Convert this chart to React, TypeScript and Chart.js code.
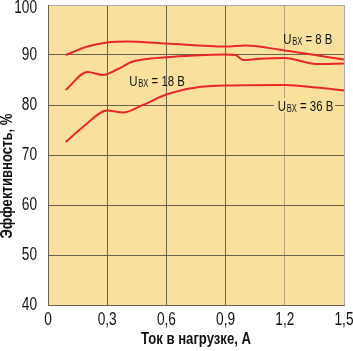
import React, { useEffect, useRef } from 'react';
import { Chart, registerables } from 'chart.js';
Chart.register(...registerables);

// Ток в нагрузке, А  /  Эффективность, %
const current8 = [0.09, 0.2, 0.3, 0.4, 0.6, 0.9, 1.0, 1.2, 1.5];
const eff8 = [90.0, 91.7, 92.5, 92.7, 92.3, 91.7, 91.9, 90.9, 89.1];

const current18 = [0.09, 0.2, 0.28, 0.35, 0.43, 0.52, 0.65, 0.9, 0.95, 0.99, 1.06, 1.2, 1.36, 1.5];
const eff18 = [83.0, 86.6, 86.0, 87.1, 88.7, 89.3, 89.7, 90.1, 90.0, 89.0, 89.2, 89.4, 88.2, 88.3];

const current36 = [0.09, 0.18, 0.3, 0.38, 0.48, 0.6, 0.75, 0.9, 1.2, 1.36, 1.5];
const eff36 = [72.6, 75.7, 78.9, 78.5, 80.0, 82.1, 83.5, 83.9, 84.0, 83.5, 82.9];

const xTickValues = [0, 0.3, 0.6, 0.9, 1.2, 1.5];
const yTickValues = [40, 50, 60, 70, 80, 90, 100];

const seriesVoltages = ['8', '18', '36'];
// label anchor (left edge, vertical centre) in data units
const labelX = [1.192, 0.412, 1.164];
const labelY = [93.4, 85.0, 80.0];

const xTitle = 'Ток в нагрузке, А';
const yTitle = 'Эффективность, %';

const SANS = '"Liberation Sans", Arial, sans-serif';
const RED = '#E8262B';
const GRID = '#6C614E';
const BG = '#F9E19D';
const SX = 0.76; // horizontal condensing of text

const toPoints = (xs: number[], ys: number[]) => xs.map((x, i) => ({ x, y: ys[i] }));
const near = (a: number, b: number) => Math.abs(a - b) < 1e-6;
const fmtX = (v: number) => (near(v, 0) ? '0' : v.toFixed(1).replace('.', ','));

function condensed(ctx: any, text: string, x: number, y: number, font: string, align: string, sx = SX) {
  ctx.save();
  ctx.font = font;
  ctx.textAlign = align;
  ctx.textBaseline = 'middle';
  ctx.translate(x, y);
  ctx.scale(sx, 1);
  ctx.fillText(text, 0, 0);
  ctx.restore();
}

const decoPlugin = {
  id: 'deco',
  beforeDraw(chart: any) {
    const { ctx, chartArea: a } = chart;
    ctx.save();
    ctx.fillStyle = BG;
    ctx.fillRect(a.left, a.top, a.right - a.left, a.bottom - a.top);
    ctx.restore();
  },
  afterDatasetsDraw(chart: any) {
    const { ctx } = chart;
    const xs = chart.scales.x;
    const ys = chart.scales.y;
    ctx.save();
    seriesVoltages.forEach((v, i) => {
      const px = xs.getPixelForValue(labelX[i]);
      const py = ys.getPixelForValue(labelY[i]);
      const big = `15px ${SANS}`;
      const small = `10px ${SANS}`;
      ctx.font = big;
      const wU = ctx.measureText('U').width;
      ctx.font = small;
      const wB = ctx.measureText('BX').width;
      ctx.font = big;
      const rest = ` = ${v} B`;
      const wR = ctx.measureText(rest).width;
      const total = (wU + 1 + wB + wR) * SX;
      if (i === 2) {
        ctx.fillStyle = BG;
        ctx.fillRect(px - 4, py - 7, total + 6, 14);
      }
      ctx.save();
      ctx.translate(px, py + 5.5);
      ctx.scale(SX, 1);
      ctx.fillStyle = '#111';
      ctx.textBaseline = 'alphabetic';
      ctx.textAlign = 'left';
      ctx.font = big;
      ctx.fillText('U', 0, 0);
      ctx.font = small;
      ctx.fillText('BX', wU + 1, 1);
      ctx.font = big;
      ctx.fillText(rest, wU + 1 + wB, 0);
      ctx.restore();
    });
    ctx.restore();
  },
  afterDraw(chart: any) {
    const { ctx, chartArea: a } = chart;
    const xs = chart.scales.x;
    const ys = chart.scales.y;
    ctx.save();
    ctx.fillStyle = '#111';
    const tickFont = `18px ${SANS}`;
    xs.ticks.forEach((t: any) => {
      condensed(ctx, fmtX(t.value), xs.getPixelForValue(t.value), 320, tickFont, 'center');
    });
    ys.ticks.forEach((t: any) => {
      let y = ys.getPixelForValue(t.value);
      if (y < 8) y = 8;
      condensed(ctx, String(t.value), 37, y, tickFont, 'right');
    });
    const titleFont = `bold 16px ${SANS}`;
    condensed(ctx, xTitle, (a.left + a.right) / 2, 340, titleFont, 'center', 0.82);
    ctx.translate(8, 176);
    ctx.rotate(-Math.PI / 2);
    condensed(ctx, yTitle, 0, 0, titleFont, 'center', 0.82);
    ctx.restore();
  },
};

export default function App() {
  const ref = useRef<HTMLCanvasElement | null>(null);
  useEffect(() => {
    document.body.style.margin = '0';
    const line = (xs: number[], ys: number[]) => ({
      data: toPoints(xs, ys),
      borderColor: RED,
      borderWidth: 2,
      pointRadius: 0,
      fill: false,
      cubicInterpolationMode: 'monotone' as const,
    });
    const chart = new Chart(ref.current as HTMLCanvasElement, {
      type: 'line',
      data: {
        datasets: [line(current8, eff8), line(current18, eff18), line(current36, eff36)],
      },
      options: {
        animation: false,
        responsive: false,
        devicePixelRatio: 1,
        layout: { padding: { top: 5, right: 9, left: 0, bottom: 0 } },
        plugins: { legend: { display: false }, tooltip: { enabled: false } },
        scales: {
          x: {
            type: 'linear',
            min: 0,
            max: 1.5,
            afterBuildTicks: (s: any) => {
              s.ticks = xTickValues.map((value) => ({ value }));
            },
            afterFit: (s: any) => {
              s.height = 46;
              s.paddingLeft = 0;
              s.paddingRight = 0;
            },
            ticks: { display: false },
            grid: {
              drawTicks: false,
              lineWidth: 1,
              color: (c: any) => {
                const v = c.tick ? c.tick.value : 0;
                if (near(v, 1.5)) return '#A9A9A9';
                if (near(v, 1.2)) return '#B7A277';
                return GRID;
              },
            },
            border: { display: true, color: GRID, width: 1 },
          },
          y: {
            type: 'linear',
            min: 40,
            max: 100,
            afterBuildTicks: (s: any) => {
              s.ticks = yTickValues.map((value) => ({ value }));
            },
            afterFit: (s: any) => {
              s.width = 48;
              s.paddingTop = 0;
              s.paddingBottom = 0;
            },
            ticks: { display: false },
            grid: {
              drawTicks: false,
              lineWidth: 1,
              color: (c: any) => {
                const v = c.tick ? c.tick.value : 0;
                if (near(v, 100)) return '#A9A9A9';
                return GRID;
              },
            },
            border: { display: true, color: GRID, width: 1 },
          },
        },
      },
      plugins: [decoPlugin],
    });
    return () => chart.destroy();
  }, []);
  return <canvas ref={ref} width={353} height={351} style={{ display: 'block' }} />;
}
